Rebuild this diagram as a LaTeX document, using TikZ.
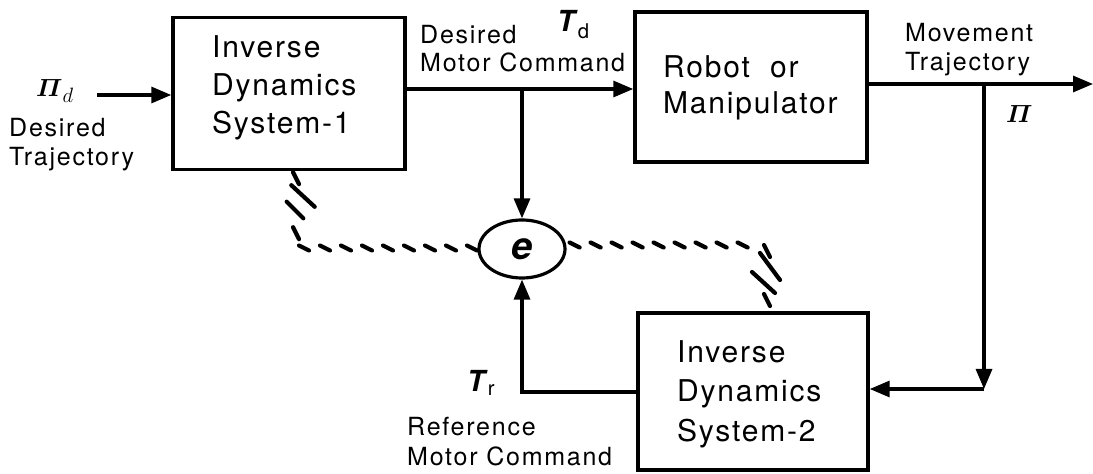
\documentclass[tikz,border=0pt]{standalone}
\usepackage{amsmath}
\usepackage{fontspec}
\setmainfont{TeX Gyre Heros}
\newfontfamily\boxfont[LetterSpace=6]{TeX Gyre Heros}
\newfontfamily\lblfont[LetterSpace=7]{TeX Gyre Heros}
\usetikzlibrary{arrows.meta,shapes.geometric,decorations.markings,calc}

\tikzset{
  block/.style={draw, line width=3.4pt, minimum width=232pt, minimum height=152pt, inner sep=0pt},
  blocktext/.style={font=\boxfont\fontsize{30}{38}\selectfont, align=left, inner sep=0pt, anchor=north west},
  lbl/.style={font=\lblfont\fontsize{25}{29.5}\selectfont, align=left, inner sep=0pt, anchor=north west},
  sym/.style={inner sep=0pt, anchor=base west},
  arr/.style={line width=3.2pt, -{Triangle[length=20pt,width=16pt]}},
  hatchstroke/.style={line width=4.2pt, line cap=round},
  % slanted dashes along a horizontal run
  hatchh/.style={decorate, decoration={markings,
      mark=between positions 8pt and -4pt step 21pt with
      {\pgftransformresetnontranslations \draw[hatchstroke] (-5pt,2.5pt) -- (5pt,-2.5pt);}}},
  % slanted dashes along a vertical run, at two given distances
  hatchv/.style 2 args={decorate, decoration={markings,
      mark=at position #1 with
      {\pgftransformresetnontranslations \draw[hatchstroke] (-3pt,6pt) -- (3pt,-6pt);},
      mark=at position #2 with
      {\pgftransformresetnontranslations \draw[hatchstroke] (-3pt,6pt) -- (3pt,-6pt);}}}
}

\begin{document}
\begin{tikzpicture}[x=1pt,y=1pt]
  \useasboundingbox (0,0) rectangle (1093,474);

  % blocks
  \node[block] (ids1) at (289,380.5) {};
  \node[block, minimum height=150pt] (robot) at (751,387) {};
  \node[block, minimum width=230pt, minimum height=157pt] (ids2) at (753,82.5) {};

  \node[blocktext] (ids1t) at (212,439) {Inverse\\Dynamics\\System-1};
  \node[blocktext, font=\boxfont\fontsize{30}{36}\selectfont] (robott) at (663,419) {Robot\ \ or\\Manipulator};
  \node[blocktext, font=\boxfont\fontsize{30}{39.5}\selectfont] (ids2t) at (677,134) {Inverse\\Dynamics\\System-2};

  % error node
  \node[ellipse, draw, line width=3.2pt, minimum width=86pt, minimum height=58pt, inner sep=0pt,
        font=\fontsize{38}{38}\selectfont\bfseries\itshape] (e) at (522,225) {e};

  % labels
  \node[sym, font=\fontsize{30}{30}\selectfont] (pid) at (36,377) {$\boldsymbol{\varPi}_{d}$};
  \node[lbl] (ldt) at (9,356) {Desired\\Trajectory};
  \node[lbl, font=\lblfont\fontsize{25}{28}\selectfont] (ldmc) at (420,449) {Desired\\Motor Command};
  \node[sym, font=\fontsize{29}{29}\selectfont] (td) at (557,442) {\textbf{\textit{T}}\textsubscript{d}};
  \node[lbl] (lmt) at (905,451) {Movement\\Trajectory};
  \node[sym, font=\fontsize{32}{32}\selectfont] (pi) at (1006,351) {$\boldsymbol{\varPi}$};
  \node[sym, font=\fontsize{29}{29}\selectfont] (tr) at (467,82) {\textbf{\textit{T}}\textsubscript{r}};
  \node[lbl, font=\lblfont\fontsize{25}{30}\selectfont] (lrmc) at (407,57) {Reference\\Motor Command};

  % connector points
  \coordinate (in0) at (97,379);
  \coordinate (tdb) at (522,385);
  \coordinate (out) at (1093,390);
  \coordinate (fb) at (984,390);
  \coordinate (fbc) at (984,85);
  \coordinate (trc) at (522,82);

  % signal flow
  \draw[arr] (in0) -- (in0 -| ids1.west);
  \draw[arr] (tdb -| ids1.east) -- (tdb -| robot.west);
  \draw[arr] (tdb) -- (e.north);
  \draw[arr] (out -| robot.east) -- (out);
  \draw[arr] (fb) -- (fbc);
  \draw[arr] (fbc) -- (fbc -| ids2.east);
  \draw[arr] (trc -| ids2.west) -- (trc) -- (e.south);

  % learning signal paths (hatched)
  \coordinate (h1) at ([xshift=7pt]ids1.south);
  \coordinate (h2) at (296,226);
  \coordinate (h3) at (767,229);
  \coordinate (h4) at ([xshift=14pt]ids2.north);

  \path[hatchv={7pt}{62pt}] (h1) -- (h2);
  \path[hatchh] (h2) -- (h2 -| e.west);
  \path[hatchh] (e.east |- h3) -- (h3);
  \path[hatchv={6pt}{55pt}] (h3) -- (h4);

  % double slash marks on the vertical runs
  \draw[hatchstroke] (291.3,288.8) -- (314.7,267.2);
  \draw[hatchstroke] (286.7,272.3) -- (303.3,255.7);
  \draw[hatchstroke] (760,221) -- (780,194);
  \draw[hatchstroke] (752,202) -- (775,181);
\end{tikzpicture}
\end{document}
